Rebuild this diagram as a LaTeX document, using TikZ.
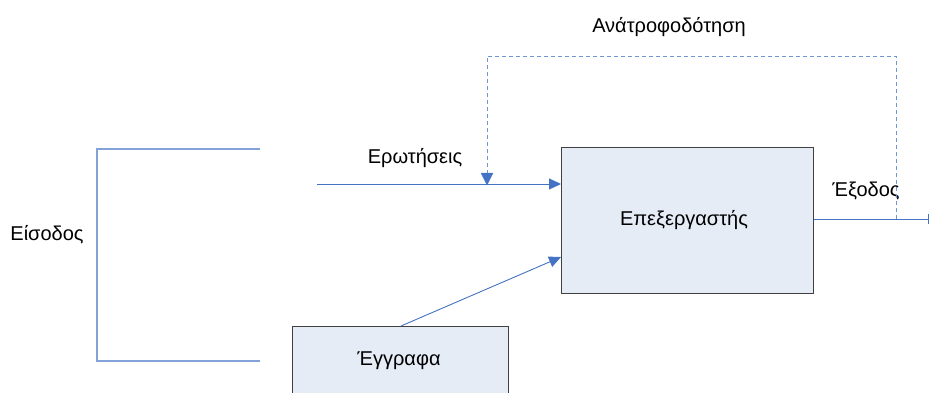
\documentclass[tikz,border=0pt]{standalone}
\usepackage{fontspec}
\setmainfont{Liberation Sans}
\usetikzlibrary{arrows.meta}
\definecolor{flowblue}{HTML}{4472C4}
\definecolor{fbblue}{HTML}{6F99D6}
\definecolor{brblue}{HTML}{82A2D8}
\definecolor{boxfill}{HTML}{E6ECF6}
\definecolor{boxedge}{HTML}{404040}
\tikzset{
  procbox/.style={draw=boxedge, fill=boxfill, line width=0.9pt},
  flow/.style={draw=flowblue, line width=0.9pt},
  bracket/.style={draw=brblue, line width=1.2pt},
  feedback/.style={draw=fbblue, line width=0.8pt, dash pattern=on 4pt off 3pt},
  tip/.style={-{Triangle[length=12pt,width=11pt]}},
  lbl/.style={font=\fontsize{20}{24}\selectfont, inner sep=0pt}
}
\begin{document}
\begin{tikzpicture}[x=1pt,y=-1pt]
\useasboundingbox (0,0) rectangle (931,393);
\clip (0,0) rectangle (931,393);
% boxes
\node[procbox, minimum width=252pt, minimum height=146pt, anchor=north west] (proc) at (561,147) {};
\node[lbl] at (684,220) {Επεξεργαστής};
\draw[procbox] (292,326) rectangle (508,400);
\coordinate (docs) at (401,326);
\node[lbl] (docslbl) at (399,361) {Έγγραφα};
% input bracket
\coordinate (bt) at (260,149);
\coordinate (bb) at (260,361);
\draw[bracket] (bt) -- (97,149) -- (97,361) -- (bb);
\node[lbl] (in) at (47,235) {Είσοδος};
% queries
\coordinate (qstart) at (317,184);
\draw[flow, tip] (qstart) -- (proc.west |- qstart);
\node[lbl] (q) at (415,158) {Ερωτήσεις};
% documents to processor
\draw[flow, tip] (docs) -- (561,257);
% output
\coordinate (outend) at (929,219);
\draw[flow, -{Bar[width=10pt]}] (proc.east |- outend) -- (outend);
\node[lbl] (out) at (866,191) {Έξοδος};
% feedback loop
\coordinate (fbstart) at (896,219);
\coordinate (fbend) at (487,184);
\draw[feedback] (fbstart) -- (896,56) -- (487,56) -- (487,175);
\draw[flowblue, fill=flowblue] (481,173) -- (493,173) -- (487,185) -- cycle;
\node[lbl] (fb) at (669,27) {Ανάτροφοδότηση};
\end{tikzpicture}
\end{document}
